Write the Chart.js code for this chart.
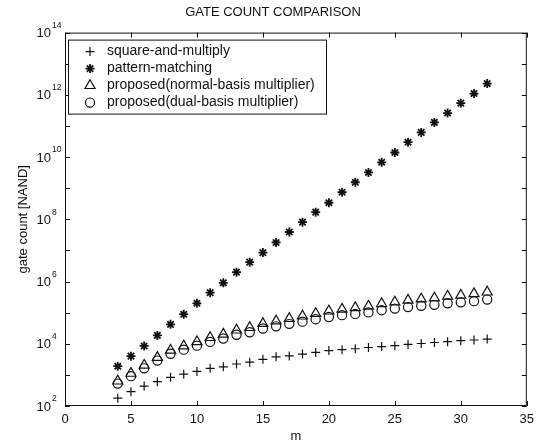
<!DOCTYPE html>
<html>
<head>
<meta charset="utf-8">
<script src="https://cdn.jsdelivr.net/npm/chart.js@4"></script>
<style>
  html, body { margin: 0; padding: 0; background: #fff; }
  #wrap { width: 540px; height: 444px; }
</style>
</head>
<body>
<div id="wrap"><canvas id="gate-chart" width="540" height="444"></canvas></div>
<script>
// values (log scale, m = 4..32)
const mValues = [4, 5, 6, 7, 8, 9, 10, 11, 12, 13, 14, 15, 16, 17, 18, 19, 20,
  21, 22, 23, 24, 25, 26, 27, 28, 29, 30, 31, 32];

const squareMultiply = [178, 288, 437, 603, 832, 1050, 1290, 1620, 1820, 2240,
  2570, 3160, 3800, 4070, 4680, 5250, 6030, 6460, 6920, 7590, 8130, 8710, 9550,
  10200, 11000, 11700, 12600, 13200, 14100];

const patternMatching = [1.9e3, 4.0e3, 8.5e3, 1.86e4, 4.2e4, 8.9e4, 2.0e5, 4.4e5,
  9.1e5, 2.0e6, 4.2e6, 8.5e6, 1.8e7, 3.9e7, 8.1e7, 1.7e8, 3.4e8, 7.4e8, 1.55e9,
  3.2e9, 6.8e9, 1.4e10, 3.0e10, 6.2e10, 1.3e11, 2.6e11, 5.4e11, 1.1e12, 2.3e12];

const normalBasis = [631, 1120, 2040, 3630, 6170, 8510, 11700, 15800, 20400,
  27500, 33100, 44700, 53700, 64600, 77600, 93300, 112000, 129000, 145000,
  162000, 195000, 219000, 251000, 275000, 295000, 339000, 363000, 407000, 457000];

const dualBasis = [525, 912, 1620, 2880, 4790, 6460, 8710, 11500, 14800, 19500,
  23400, 30900, 36300, 43700, 51300, 61700, 72400, 83200, 91200, 102000, 120000,
  135000, 151000, 166000, 178000, 200000, 214000, 234000, 263000];

const seriesLabels = [
  'square-and-multiply',
  'pattern-matching',
  'proposed(normal-basis multiplier)',
  'proposed(dual-basis multiplier)'
];

const xTicks = [0, 5, 10, 15, 20, 25, 30, 35];
const yLabelExponents = [2, 4, 6, 8, 10, 12, 14];
const yTickExponents = [2, 3, 4, 5, 6, 7, 8, 9, 10, 11, 12, 13, 14];

const FONT = '"Liberation Sans", Arial, Helvetica, sans-serif';
const INK = '#111';

function toPoints(values) {
  return values.map((v, i) => ({ x: mValues[i], y: v }));
}

const markerStyles = [
  { pointStyle: 'cross', radius: 4.5, width: 1.2 },
  { pointStyle: 'star', radius: 4.5, width: 1.8 },
  { pointStyle: 'triangle', radius: 5.8, width: 1.2 },
  { pointStyle: 'circle', radius: 4.6, width: 1.2 }
];

const seriesData = [squareMultiply, patternMatching, normalBasis, dualBasis];

const datasets = seriesData.map((vals, i) => ({
  label: seriesLabels[i],
  data: toPoints(vals),
  showLine: false,
  pointStyle: markerStyles[i].pointStyle,
  pointRadius: markerStyles[i].radius,
  pointBorderWidth: markerStyles[i].width,
  pointBorderColor: INK,
  pointBackgroundColor: 'rgba(0,0,0,0)',
  borderColor: INK,
  backgroundColor: 'rgba(0,0,0,0)'
}));

// matlab-ish frame: box, inward ticks on all sides, superscript labels, legend
const matlabFrame = {
  id: 'matlabFrame',
  afterDraw(chart) {
    const ctx = chart.ctx;
    const area = chart.chartArea;
    const xs = chart.scales.x;
    const ys = chart.scales.y;
    const tl = 5;

    ctx.save();
    ctx.strokeStyle = INK;
    ctx.lineWidth = 1;
    ctx.strokeRect(area.left + 0.5, area.top + 0.5, area.width - 1, area.height - 1);

    ctx.beginPath();
    xTicks.forEach((t) => {
      const px = Math.round(xs.getPixelForValue(t)) + 0.5;
      ctx.moveTo(px, area.bottom);
      ctx.lineTo(px, area.bottom - tl);
      ctx.moveTo(px, area.top);
      ctx.lineTo(px, area.top + tl);
    });
    yTickExponents.forEach((e) => {
      const py = Math.round(ys.getPixelForValue(Math.pow(10, e))) + 0.5;
      ctx.moveTo(area.left, py);
      ctx.lineTo(area.left + tl, py);
      ctx.moveTo(area.right, py);
      ctx.lineTo(area.right - tl, py);
    });
    ctx.stroke();

    // y tick labels as 10 with a raised exponent
    ctx.fillStyle = INK;
    ctx.textBaseline = 'middle';
    yLabelExponents.forEach((e) => {
      const py = ys.getPixelForValue(Math.pow(10, e));
      ctx.font = '13px ' + FONT;
      ctx.textAlign = 'right';
      const xBase = area.left - 14;
      ctx.fillText('10', xBase, py + 1);
      ctx.font = '8.5px ' + FONT;
      ctx.textAlign = 'left';
      ctx.fillText(String(e), xBase + 1, py - 7);
    });

    // legend box inside the plot
    const lx = area.left + 3;
    const ly = area.top + 7;
    const lw = 258;
    const lh = 74;
    ctx.fillStyle = '#fff';
    ctx.fillRect(lx, ly, lw, lh);
    ctx.strokeStyle = INK;
    ctx.lineWidth = 1;
    ctx.strokeRect(lx + 0.5, ly + 0.5, lw, lh);

    ctx.font = '14px ' + FONT;
    ctx.textAlign = 'left';
    ctx.textBaseline = 'middle';
    chart.data.datasets.forEach((ds, i) => {
      const rowY = ly + 12 + i * 17;
      ctx.fillStyle = 'rgba(0,0,0,0)';
      ctx.strokeStyle = INK;
      ctx.lineWidth = ds.pointBorderWidth;
      Chart.helpers.drawPoint(ctx, {
        pointStyle: ds.pointStyle,
        radius: ds.pointRadius,
        borderWidth: ds.pointBorderWidth,
        rotation: 0
      }, lx + 22, rowY);
      ctx.fillStyle = INK;
      ctx.fillText(ds.label, lx + 39, rowY);
    });
    ctx.restore();
  }
};

const ctx = document.getElementById('gate-chart').getContext('2d');
// eslint-disable-next-line no-unused-vars
const chart = new Chart(ctx, {
  type: 'scatter',
  data: { datasets },
  options: {
    responsive: false,
    animation: false,
    devicePixelRatio: 1,
    layout: { padding: { left: 16, right: 10, top: 0, bottom: 0 } },
    plugins: {
      legend: { display: false },
      tooltip: { enabled: false },
      title: {
        display: true,
        text: 'GATE COUNT COMPARISON',
        color: INK,
        font: { family: FONT, size: 13, weight: 'normal' },
        padding: { top: 5, bottom: 12 }
      }
    },
    scales: {
      x: {
        type: 'linear',
        min: 0,
        max: 35,
        afterBuildTicks(scale) {
          scale.ticks = xTicks.map((v) => ({ value: v }));
        },
        afterFit(scale) { scale.height = 38; },
        grid: { display: false, drawTicks: false },
        border: { display: false },
        ticks: {
          color: INK,
          padding: 6,
          font: { family: FONT, size: 13 }
        },
        title: {
          display: true,
          text: 'm',
          color: INK,
          padding: { top: 1, bottom: 0 },
          font: { family: FONT, size: 13 }
        }
      },
      y: {
        type: 'logarithmic',
        min: 1e2,
        max: 1e14,
        afterBuildTicks(scale) {
          scale.ticks = yLabelExponents.map((e) => ({ value: Math.pow(10, e) }));
        },
        afterFit(scale) { scale.width = 49; },
        grid: { display: false, drawTicks: false },
        border: { display: false },
        ticks: { display: false },
        title: {
          display: true,
          text: 'gate count [NAND]',
          color: INK,
          padding: { top: 0, bottom: 0 },
          font: { family: FONT, size: 13 }
        }
      }
    }
  },
  plugins: [matlabFrame]
});
</script>
</body>
</html>
